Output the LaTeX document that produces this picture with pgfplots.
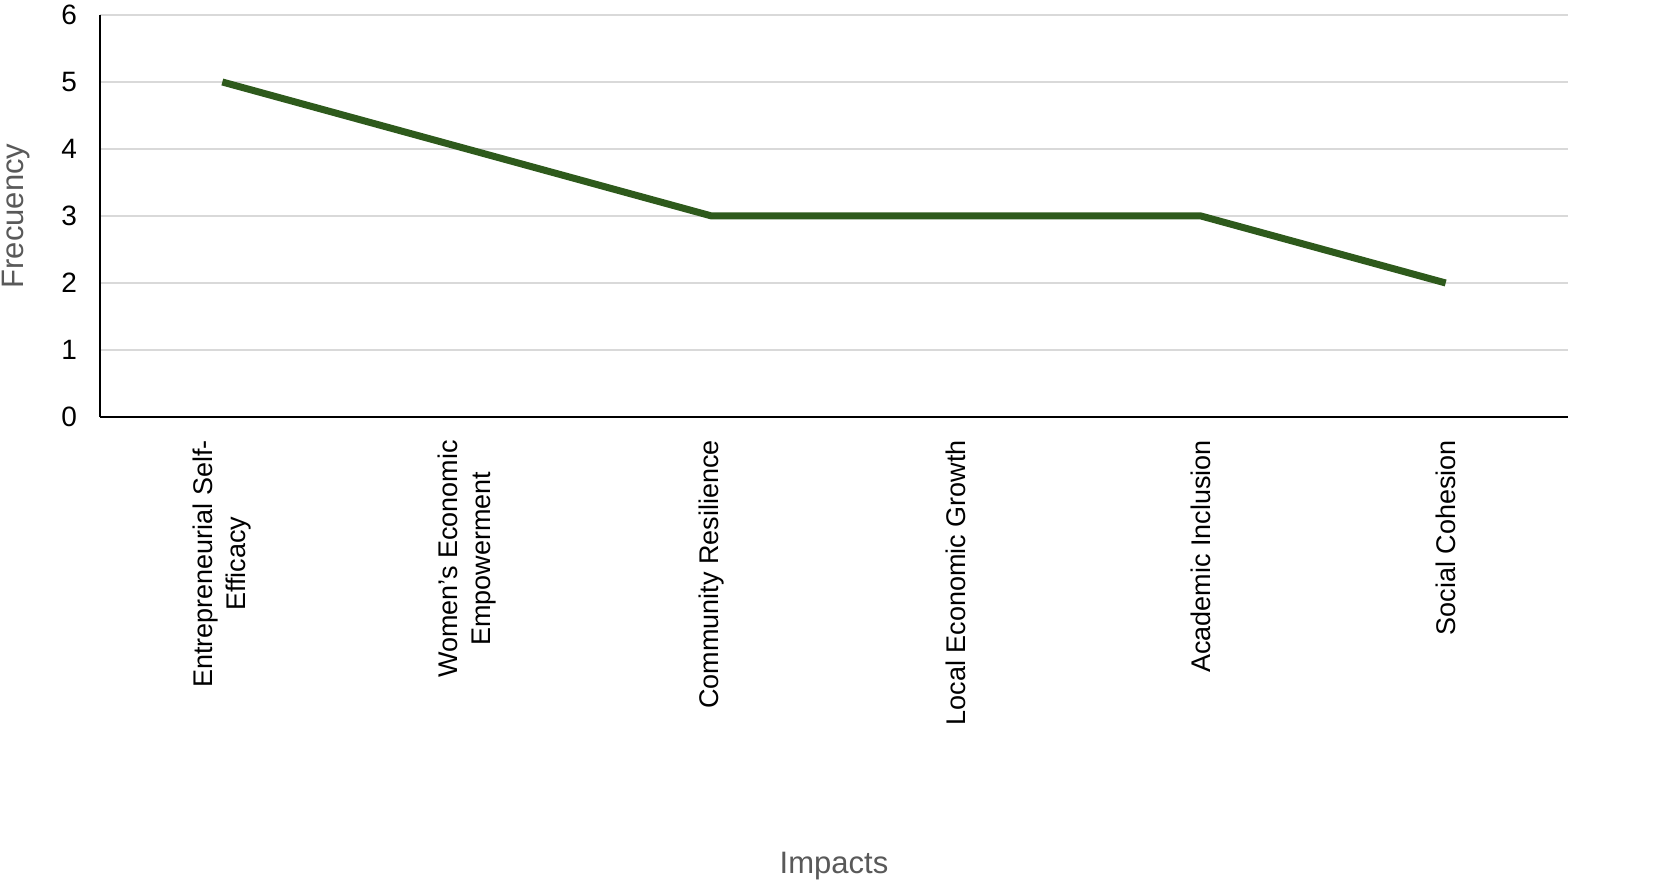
\documentclass[border=0pt]{standalone}
\usepackage{pgfplots}
\pgfplotsset{compat=1.18}
\usepackage{fontspec}
\setmainfont{Liberation Sans}
\definecolor{lg}{HTML}{2E5A1C}
\definecolor{gr}{HTML}{D9D9D9}
\definecolor{tg}{HTML}{595959}
\begin{document}
\begin{tikzpicture}[x=0.5pt,y=0.5pt]
\useasboundingbox (0,0) rectangle (1665,892);
\begin{axis}[
  at={(100pt*0.5,475pt*0.5)}, anchor=south west,
  scale only axis, width=734pt, height=201pt,
  xmin=-0.5, xmax=5.5, ymin=0, ymax=6,
  ytick={0,1,...,6},
  xtick={0,...,5},
  xticklabels={{Entrepreneurial Self-\\Efficacy},{Women’s Economic\\Empowerment},{Community Resilience},{Local Economic Growth},{Academic Inclusion},{Social Cohesion}},
  x tick label style={rotate=90, anchor=east, align=center, font=\fontsize{13.5}{16.5}\selectfont},
  xticklabel shift=8pt,
  yticklabel shift=8pt,
  y tick label style={font=\fontsize{14}{16}\selectfont},
  /pgf/number format/assume math mode=true,
  axis x line*=bottom, axis y line*=left,
  axis line style={black, line width=0.6pt, -},
  major tick length=0pt,
  ymajorgrids, grid style={gr, line width=0.8pt},
  xlabel={Impacts}, ylabel={Frecuency},
  label style={font=\fontsize{15.5}{18}\selectfont, text=tg},
  xlabel style={at={(0.5,0)}, anchor=south, yshift=-237pt+2pt},
  ylabel style={at={(axis description cs:-0.057,0.5)}, anchor=center, rotate=0},
  clip=false,
]
\addplot[lg, line width=3.5pt] coordinates {(0,5) (1,4) (2,3) (3,3) (4,3) (5,2)};
\end{axis}
\end{tikzpicture}
\end{document}
